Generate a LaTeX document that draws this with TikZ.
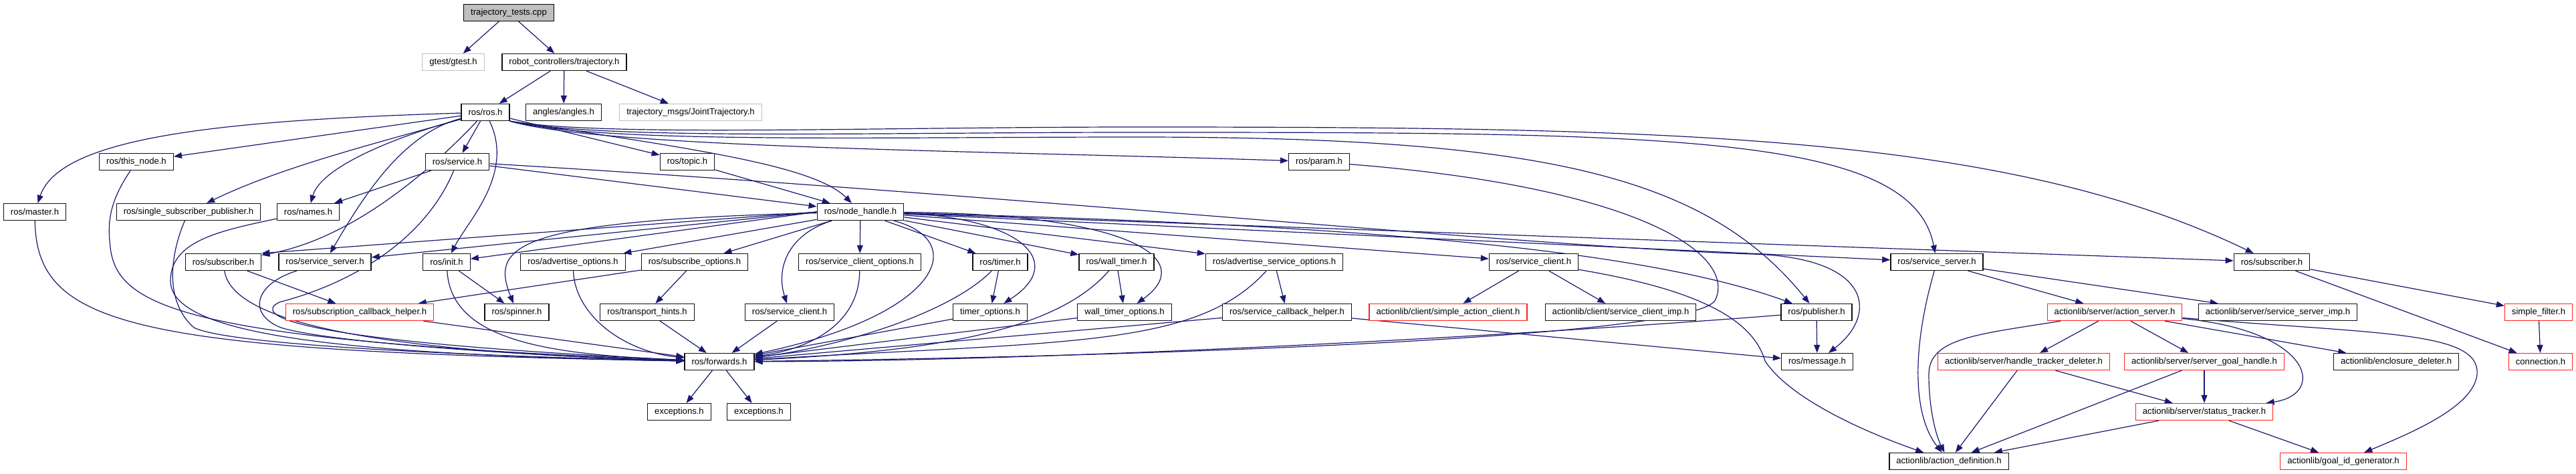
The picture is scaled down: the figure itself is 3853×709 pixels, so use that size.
\documentclass[tikz,border=0pt]{standalone}
\usepackage{fontspec}
\setmainfont{Liberation Sans}
\usetikzlibrary{arrows.meta,backgrounds}
\definecolor{edgeblue}{HTML}{191970}
\definecolor{hdrline}{HTML}{111111}
\definecolor{misred}{HTML}{FF2020}
\definecolor{extgray}{HTML}{BFBFBF}
\definecolor{rootfill}{HTML}{BFBFBF}

\begin{document}
\begin{tikzpicture}[
  x=1pt, y=-1pt,
  font=\fontsize{13.1}{15}\selectfont,
  hdr/.style  = {draw=hdrline, fill=white, line width=1.3pt, inner xsep=10.5pt, inner ysep=0pt,
                 minimum height=25pt},
  miss/.style = {hdr, draw=misred},
  ext/.style  = {hdr, draw=extgray},
  root/.style = {hdr, draw=black, fill=rootfill},
  dep/.style  = {-{Triangle[length=12pt, width=9pt]}, draw=edgeblue, line width=1.2pt},
]
\useasboundingbox (0,0) rectangle (3853,709);

% --- the file itself and its direct includes ------------------------------------------------------
\node[root] (tt)     at (761,19)   {trajectory\_tests.cpp};
\node[ext]  (gtest)  at (678,93)   {gtest/gtest.h};
\node[hdr]  (traj)   at (844,93)   {robot\_controllers/trajectory.h};
\node[hdr]  (ros)    at (726,168)  {ros/ros.h};
\node[hdr]  (angles) at (843,168)  {angles/angles.h};
\node[ext]  (jt)     at (1033,168) {trajectory\_msgs/JointTrajectory.h};

% --- roscpp headers, row by row -------------------------------------------------------------------
\node[hdr] (thisnode) at (204,242)  {ros/this\_node.h};
\node[hdr] (service)  at (684,242)  {ros/service.h};
\node[hdr] (topic)    at (1028,242) {ros/topic.h};
\node[hdr] (param)    at (1973,242) {ros/param.h};

\node[hdr] (master) at (52,317)   {ros/master.h};
\node[hdr] (ssp)    at (282,317)  {ros/single\_subscriber\_publisher.h};
\node[hdr] (names)  at (461,317)  {ros/names.h};
\node[hdr] (nh)     at (1287,317) {ros/node\_handle.h};

\node[hdr] (subl)   at (334,392)  {ros/subscriber.h};
\node[hdr] (srvl)   at (486,392)  {ros/service\_server.h};
\node[hdr] (init)   at (668,392)  {ros/init.h};
\node[hdr] (advopt) at (857,392)  {ros/advertise\_options.h};
\node[hdr] (subopt) at (1039,392) {ros/subscribe\_options.h};
\node[hdr] (scopt)  at (1286,392) {ros/service\_client\_options.h};
\node[hdr] (timer)  at (1496,392) {ros/timer.h};
\node[hdr] (wtimer) at (1670,392) {ros/wall\_timer.h};
\node[hdr] (asopt)  at (1906,392) {ros/advertise\_service\_options.h};
\node[hdr] (scu)    at (2294,392) {ros/service\_client.h};
\node[hdr] (srvr)   at (2897,392) {ros/service\_server.h};
\node[hdr] (subr)   at (3398,392) {ros/subscriber.h};

\node[miss] (sch)     at (538,467)  {ros/subscription\_callback\_helper.h};
\node[hdr]  (spinner) at (773,467)  {ros/spinner.h};
\node[hdr]  (hints)   at (968,467)  {ros/transport\_hints.h};
\node[hdr]  (scl)     at (1181,467) {ros/service\_client.h};
\node[hdr]  (timopt)  at (1481,467) {timer\_options.h};
\node[hdr]  (wtopt)   at (1682,467) {wall\_timer\_options.h};
\node[hdr]  (scbh)    at (1925,467) {ros/service\_callback\_helper.h};
\node[miss] (sac)     at (2166,467) {actionlib/client/simple\_action\_client.h};
\node[hdr]  (scimp)   at (2424,467) {actionlib/client/service\_client\_imp.h};
\node[hdr]  (pub)     at (2717,467) {ros/publisher.h};
\node[miss] (asrv)    at (3163,467) {actionlib/server/action\_server.h};
\node[hdr]  (ssimp)   at (3407,467) {actionlib/server/service\_server\_imp.h};
\node[miss] (sfilter) at (3797,467) {simple\_filter.h};

\node[hdr]  (fwd)  at (1076,541) {ros/forwards.h};
\node[hdr]  (msg)  at (2718,541) {ros/message.h};
\node[miss] (htd)  at (3027,541) {actionlib/server/handle\_tracker\_deleter.h};
\node[miss] (sgh)  at (3297,541) {actionlib/server/server\_goal\_handle.h};
\node[hdr]  (encl) at (3584,541) {actionlib/enclosure\_deleter.h};
\node[miss] (conn) at (3800,541) {connection.h};

\node[hdr]  (exc1) at (1016,616) {exceptions.h};
\node[hdr]  (exc2) at (1135,616) {exceptions.h};
\node[miss] (stat) at (3297,616) {actionlib/server/status\_tracker.h};

\node[hdr]  (adef) at (2915,690) {actionlib/action\_definition.h};
\node[miss] (gid)  at (3505,690) {actionlib/goal\_id\_generator.h};

% Edges go under the boxes so that a crossing never shows through a label.
\begin{scope}[on background layer]

% --- top of the graph -----------------------------------------------------------------------------
\draw[dep] (tt) -- (gtest);
\draw[dep] (tt) -- (traj);
\draw[dep] (traj) -- (ros);
\draw[dep] (traj) -- (angles);
\draw[dep] (traj) -- (jt);

% --- ros/ros.h ------------------------------------------------------------------------------------
\draw[dep] (ros) .. controls (330,180) and (90,205) .. (master);
\draw[dep] (ros) -- (thisnode);
\draw[dep] (ros) .. controls (560,215) and (420,250) .. (ssp);
\draw[dep] (ros) .. controls (590,205) and (480,250) .. (names);
\draw[dep] (ros) -- (service);
\draw[dep] (ros) -- (topic);
\draw[dep] (ros.south east) .. controls (1060,225) and (1220,250) .. (nh);
\draw[dep] (ros.south east) .. controls (900,222) and (1500,226) .. (param);
\draw[dep] (ros) .. controls (620,280) and (510,360) .. (subl);
\draw[dep] (ros) .. controls (600,200) and (540,300) .. (srvl);
\draw[dep] (ros) .. controls (770,260) and (700,330) .. (init);
\draw[dep] (ros.south east) .. controls (900,215) and (1300,205) .. (1700,205)
                            .. controls (2300,205) and (2550,260) .. (pub);
\draw[dep] (ros.south east) .. controls (900,210) and (1300,198) .. (1700,198)
                            .. controls (2500,198) and (2860,200) .. (srvr);
\draw[dep] (ros.south east) .. controls (900,205) and (1300,190) .. (1700,190)
                            .. controls (2500,190) and (3000,200) .. (subr);

% --- ros/service.h and ros/topic.h ----------------------------------------------------------------
\draw[dep] (service) -- (names);
\draw[dep] (service) -- (nh);
\draw[dep] (service) .. controls (640,350) and (540,420) .. (418,452)
                     .. controls (380,470) and (420,510) .. (fwd);
\draw[dep] (service) .. controls (1500,290) and (2300,370) .. (2620,380)
                     .. controls (2800,385) and (2810,470) .. (msg);
\draw[dep] (topic) -- (nh);

% --- ros/node_handle.h ----------------------------------------------------------------------------
\draw[dep] (nh.west) -- (subl.north east);
\draw[dep] (nh.west) -- (srvl);
\draw[dep] (nh.west) -- (init);
\draw[dep] (nh) .. controls (760,330) and (735,370) .. (spinner);
\draw[dep] (nh) -- (advopt);
\draw[dep] (nh) -- (subopt);
\draw[dep] (nh) -- (scopt);
\draw[dep] (nh) .. controls (1180,350) and (1160,400) .. (scl);
\draw[dep] (nh) -- (timer);
\draw[dep] (nh) .. controls (1520,325) and (1600,390) .. (timopt);
\draw[dep] (nh) -- (wtimer);
\draw[dep] (nh) .. controls (1700,320) and (1790,390) .. (wtopt);
\draw[dep] (nh) -- (asopt);
\draw[dep] (nh) -- (scu);
\draw[dep] (nh) .. controls (2000,335) and (2450,370) .. (pub);
\draw[dep] (nh) -- (srvr);
\draw[dep] (nh) -- (subr);
\draw[dep] (nh) .. controls (1450,360) and (1410,470) .. (fwd);

% --- everything that lands on ros/forwards.h ------------------------------------------------------
\draw[dep] (master) .. controls (55,490) and (200,525) .. (fwd);
\draw[dep] (thisnode) .. controls (165,300) and (160,330) .. (165,370)
                      .. controls (175,460) and (280,510) .. (fwd);
\draw[dep] (ssp) .. controls (255,380) and (245,450) .. (290,490)
                 .. controls (350,520) and (800,535) .. (fwd);
\draw[dep] (names) .. controls (330,345) and (255,360) .. (255,420)
                   .. controls (255,500) and (500,530) .. (fwd);
\draw[dep] (subl) .. controls (345,470) and (500,525) .. (fwd);
\draw[dep] (srvl) .. controls (380,425) and (370,470) .. (420,490)
                  .. controls (500,515) and (850,535) .. (fwd);
\draw[dep] (init) .. controls (675,510) and (820,530) .. (fwd);
\draw[dep] (sch) -- (fwd);
\draw[dep] (advopt) .. controls (860,470) and (930,525) .. (fwd);
\draw[dep] (hints) -- (fwd);
\draw[dep] (scl) -- (fwd);
\draw[dep] (scopt) .. controls (1285,480) and (1220,520) .. (fwd);
\draw[dep] (timer) .. controls (1420,470) and (1250,520) .. (fwd);
\draw[dep] (timopt) -- (fwd);
\draw[dep] (wtimer) .. controls (1580,495) and (1400,525) .. (fwd);
\draw[dep] (wtopt) -- (fwd);
\draw[dep] (asopt) .. controls (1790,520) and (1600,510) .. (fwd);
\draw[dep] (scbh) -- (fwd);
\draw[dep] (pub) .. controls (2300,500) and (1600,540) .. (fwd);
\draw[dep] (param) .. controls (2450,280) and (2600,380) .. (2565,450)
                   .. controls (2520,510) and (1600,535) .. (fwd);
\draw[dep] (fwd) -- (exc1);
\draw[dep] (fwd) -- (exc2);

% --- short hops between the option / helper headers -----------------------------------------------
\draw[dep] (subl) -- (sch);
\draw[dep] (subopt) -- (sch);
\draw[dep] (subopt) -- (hints);
\draw[dep] (init) -- (spinner);
\draw[dep] (timer) -- (timopt);
\draw[dep] (wtimer) -- (wtopt);
\draw[dep] (asopt) -- (scbh);
\draw[dep] (scbh) -- (msg);
\draw[dep] (pub) -- (msg);

% --- actionlib, client side -----------------------------------------------------------------------
\draw[dep] (scu) -- (sac);
\draw[dep] (scu) -- (scimp);
\draw[dep] (scu) .. controls (2520,430) and (2620,470) .. (2640,540)
                 .. controls (2680,600) and (2800,650) .. (adef);

% --- actionlib, server side -----------------------------------------------------------------------
\draw[dep] (srvr) -- (asrv);
\draw[dep] (srvr) -- (ssimp);
\draw[dep] (srvr) .. controls (2860,520) and (2860,620) .. (adef);
\draw[dep] (asrv) .. controls (2960,500) and (2885,505) .. (2885,560)
                  .. controls (2885,610) and (2895,650) .. (adef);
\draw[dep] (asrv) -- (htd);
\draw[dep] (asrv) -- (sgh);
\draw[dep] (asrv) .. controls (3460,495) and (3480,590) .. (stat);
\draw[dep] (asrv) -- (encl);
\draw[dep] (asrv) .. controls (3560,500) and (3710,495) .. (3705,560)
                  .. controls (3700,610) and (3600,650) .. (gid);
\draw[dep] (htd) -- (adef);
\draw[dep] (htd) -- (stat);
\draw[dep] (sgh) -- (adef);
\draw[dep] (sgh) -- (stat);
\draw[dep] (stat) -- (adef);
\draw[dep] (stat) -- (gid);

% --- message_filters ------------------------------------------------------------------------------
\draw[dep] (subr) -- (sfilter);
\draw[dep] (subr) -- (conn);
\draw[dep] (sfilter) -- (conn);

\end{scope}

\end{tikzpicture}
\end{document}
